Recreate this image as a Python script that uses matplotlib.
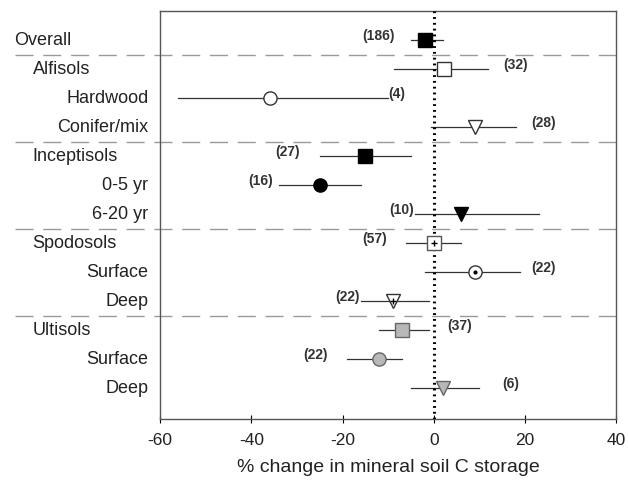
import matplotlib
matplotlib.use("Agg")
import matplotlib.pyplot as plt

plt.rcParams['font.family'] = ['Liberation Sans', 'DejaVu Sans']
plt.rcParams['axes.unicode_minus'] = False

# rows, top to bottom
labels = ["Overall", "Alfisols", "Hardwood", "Conifer/mix", "Inceptisols", "0-5 yr", "6-20 yr",
          "Spodosols", "Surface", "Deep", "Ultisols", "Surface", "Deep"]
is_group = [True, True, False, False, True, False, False, True, False, False, True, False, False]
means = [-2, 2.2, -36, 9, -15, -25, 6, 0, 9, -9, -7, -12, 2]
lows = [-5, -8.7, -56, -0.7, -25, -34, -4, -6, -2, -16, -12, -19, -5]
highs = [2, 12, -10, 18, -5, -16, 23, 6, 19, -1, -1, -7, 10]
n_obs = ["(186)", "(32)", "(4)", "(28)", "(27)", "(16)", "(10)", "(57)", "(22)", "(22)", "(37)", "(22)", "(6)"]
n_label_x = [-12, 18, -8, 24, -32, -38, -7, -13, 24, -19, 5.6, -26, 17]
separators = [0.5, 3.5, 6.5, 9.5]

# marker style per row: (marker, face, edge, inner mark)
styles = [("s", "black", "black", None), ("s", "white", "#333333", None), ("o", "white", "#333333", None),
          ("v", "white", "#333333", None), ("s", "black", "black", None), ("o", "black", "black", None),
          ("v", "black", "black", None), ("s", "white", "#555555", "+"), ("o", "white", "#333333", "."),
          ("v", "white", "#333333", "+"), ("s", "#b8b8b8", "#666666", None), ("o", "#b8b8b8", "#666666", None),
          ("v", "#b8b8b8", "#666666", None)]

fig = plt.figure(figsize=(6.28, 4.84), dpi=100)
ax = fig.add_axes([0.255, 0.134, 0.726, 0.843])

for i in range(len(labels)):
    mk, fc, ec, inner = styles[i]
    ax.plot([lows[i], highs[i]], [i, i], color="#333333", lw=0.9, zorder=2)
    ax.plot(means[i], i, marker=mk, ms=9.5, mfc=fc, mec=ec, mew=1.0, ls="none", zorder=4)
    if inner:
        ax.plot(means[i], i, marker=inner, ms=5 if inner == "+" else 4, color="black", mew=1.0,
                ls="none", zorder=5)
    ax.text(n_label_x[i], i - 0.15, n_obs[i], ha="center", va="center", fontsize=10,
            fontweight="bold", color="#333333")
    if is_group[i]:
        x_lab = -0.32 if i == 0 else -0.28
        ax.text(x_lab, i, labels[i], transform=ax.get_yaxis_transform(), ha="left", va="center",
                fontsize=13, color="#222222")
    else:
        ax.text(-0.026, i, labels[i], transform=ax.get_yaxis_transform(), ha="right", va="center",
                fontsize=13, color="#222222")

for y in separators:
    ax.axhline(y, xmin=-0.318, xmax=1, color="#9a9a9a", lw=1.0, dashes=(13, 7), clip_on=False, zorder=1)

ax.axvline(0, color="black", lw=2.2, ls=(0, (0.6, 1.3)), zorder=3)

ax.set_xlim(-60, 40)
ax.set_ylim(13.07, -1)
ax.set_xticks([-60, -40, -20, 0, 20, 40])
ax.set_yticks([])
ax.tick_params(axis="x", direction="inout", length=6, labelsize=12.5, labelcolor="#222222", pad=7)
for s in ax.spines.values():
    s.set_color("#555555")
    s.set_linewidth(1.0)
ax.set_xlabel("% change in mineral soil C storage", fontsize=14, color="#222222", labelpad=8)

fig.savefig("out.png", dpi=100)
